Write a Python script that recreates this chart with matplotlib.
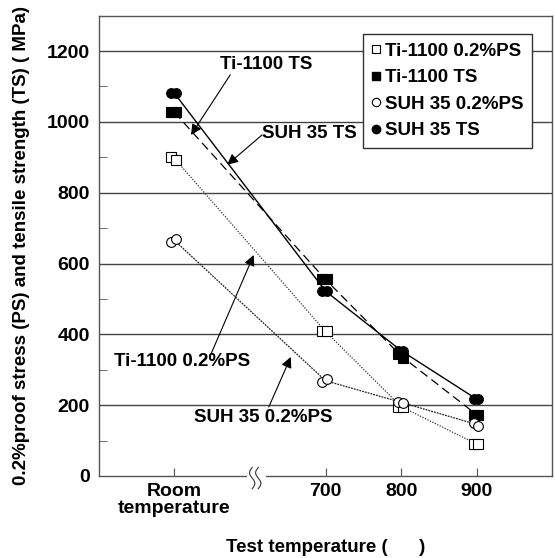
import matplotlib
matplotlib.use("Agg")
import matplotlib.pyplot as plt
from matplotlib.lines import Line2D
from matplotlib.ticker import MultipleLocator
import matplotlib.transforms as mtransforms
import numpy as np

plt.rcParams['font.family'] = ['Liberation Sans', 'DejaVu Sans']
plt.rcParams['font.weight'] = 'bold'

# Data
temp_labels = ['Room\ntemperature', '700', '800', '900']
temp_pos = [500, 700, 800, 900]   # position of each test temperature on the (broken) axis

ti_ps_a = [901, 408, 196, 90]
ti_ps_b = [893, 408, 196, 90]
ti_ts_a = [1027, 555, 345, 173]
ti_ts_b = [1027, 555, 333, 173]
suh_ps_a = [661, 264, 210, 149]
suh_ps_b = [670, 274, 206, 142]
suh_ts_a = [1081, 522, 354, 217]
suh_ts_b = [1081, 522, 354, 217]

yticks = [0, 200, 400, 600, 800, 1000, 1200]

FS = 13.5

fig = plt.figure(figsize=(5.55, 5.58), dpi=100)
ax = fig.add_axes([0.178, 0.147, 0.817, 0.825])
ax.set_xlim(400, 1000)
ax.set_ylim(0, 1300)

gray = '#555555'
for y in yticks[1:]:
    ax.axhline(y, color='#444444', lw=1.0, zorder=1)

off_l = mtransforms.offset_copy(ax.transData, fig=fig, x=-2.2, y=0, units='points')
off_r = mtransforms.offset_copy(ax.transData, fig=fig, x=1.2, y=0, units='points')

series = [
    (ti_ps_a, ti_ps_b, 's', 'white', dict(ls=(0, (1, 1.2)), lw=0.9, color='#333333')),
    (ti_ts_a, ti_ts_b, 's', 'black', dict(ls=(0, (7, 4)), lw=0.9, color='black')),
    (suh_ps_a, suh_ps_b, 'o', 'white', dict(ls=(0, (1.5, 0.8)), lw=0.9, color='#222222')),
    (suh_ts_a, suh_ts_b, 'o', 'black', dict(ls='-', lw=1.0, color='black')),
]
for a, b, m, fc, lst in series:
    mean = [(p + q) / 2 for p, q in zip(a, b)]
    ax.plot(temp_pos, mean, zorder=2, **lst)
    ax.plot(temp_pos, a, ls='none', marker=m, ms=7, mfc=fc, mec='black', mew=0.8,
            transform=off_l, zorder=3)
    ax.plot(temp_pos, b, ls='none', marker=m, ms=7, mfc=fc, mec='black', mew=0.8,
            transform=off_r, zorder=3)

# axes styling
for s in ax.spines.values():
    s.set_color(gray)
    s.set_linewidth(1.0)
ax.set_xticks(temp_pos)
ax.set_xticklabels(temp_labels, fontsize=14, fontweight='bold', linespacing=1.0)
ax.set_yticks(yticks)
ax.set_yticklabels([str(v) for v in yticks], fontsize=14, fontweight='bold')
ax.yaxis.set_minor_locator(MultipleLocator(100))
ax.tick_params(axis='y', which='major', length=0, pad=6.5)
ax.tick_params(axis='y', which='minor', length=6, direction='in', color=gray)
ax.tick_params(axis='x', which='major', length=6, direction='in', color=gray, pad=5)

# axis break on the bottom spine
bx0, bx1 = 596, 621
ax.add_patch(plt.Rectangle((bx0, -8), bx1 - bx0, 16, transform=ax.transData,
                           facecolor='white', edgecolor='none', clip_on=False, zorder=5))
t = np.linspace(-1, 1, 40)
for cx in (603, 611):
    xs = cx + 3.5 * np.sin(t * np.pi / 2) * np.cos(t * np.pi / 2) * 2
    ys = -6 - t * 30
    ax.plot(xs, ys, color='#333333', lw=0.8, clip_on=False, zorder=6)

ax.set_ylabel('0.2%proof stress (PS) and tensile strength (TS) ( MPa)',
              fontsize=FS, fontweight='bold', labelpad=12)
ax.set_xlabel('Test temperature (      )', fontsize=FS, fontweight='bold', labelpad=16)

# annotations
ann = dict(arrowstyle='-|>', color='black', lw=0.8, mutation_scale=16,
           shrinkA=0, shrinkB=0)
ax.annotate('', xy=(522, 963), xytext=(574, 1133), arrowprops=ann)
ax.text(621, 1161, 'Ti-1100 TS', fontsize=FS, fontweight='bold', ha='center', va='center')
ax.annotate('', xy=(570, 879), xytext=(616, 963), arrowprops=ann)
ax.text(678, 966, 'SUH 35 TS', fontsize=FS, fontweight='bold', ha='center', va='center')
ax.annotate('', xy=(605, 624), xytext=(549, 347), arrowprops=ann)
ax.text(510, 322, 'Ti-1100 0.2%PS', fontsize=FS, fontweight='bold', ha='center', va='center')
ax.annotate('', xy=(654, 336), xytext=(625, 195), arrowprops=ann)
ax.text(617, 164, 'SUH 35 0.2%PS', fontsize=FS, fontweight='bold', ha='center', va='center')

handles = [
    Line2D([], [], ls='none', marker='s', ms=6, mfc='white', mec='black', mew=0.8),
    Line2D([], [], ls='none', marker='s', ms=6, mfc='black', mec='black'),
    Line2D([], [], ls='none', marker='o', ms=6, mfc='white', mec='black', mew=0.8),
    Line2D([], [], ls='none', marker='o', ms=6, mfc='black', mec='black'),
]
labels = ['Ti-1100 0.2%PS', 'Ti-1100 TS', 'SUH 35 0.2%PS', 'SUH 35 TS']
leg = ax.legend(handles, labels, loc='upper right', bbox_to_anchor=(0.959, 0.939),
                bbox_transform=fig.transFigure, fancybox=False, framealpha=1,
                edgecolor='#333333', handlelength=0.5, handletextpad=0.25,
                borderpad=0.45, labelspacing=0.5, borderaxespad=0,
                prop=dict(size=FS, weight='bold'))
leg.get_frame().set_linewidth(1.0)
leg.set_zorder(10)

fig.savefig('out.png', dpi=100)
